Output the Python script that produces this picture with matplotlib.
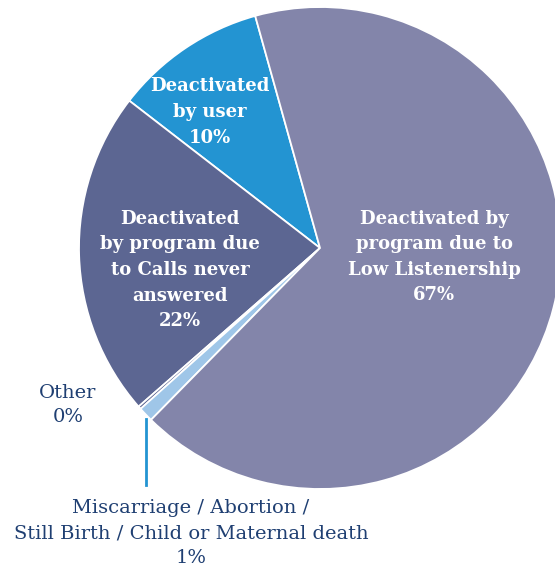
import numpy as np
import matplotlib.pyplot as plt

# slices, counter-clockwise from the top boundary
labels = ['Deactivated\nby user\n10%',
          'Deactivated\nby program due\nto Calls never\nanswered\n22%',
          'Other\n0%',
          'Miscarriage / Abortion /\nStill Birth / Child or Maternal death\n1%',
          'Deactivated by\nprogram due to\nLow Listenership\n67%']
values = [10.2, 21.9, 0.2, 1.0, 66.7]
colors = ['#2394d2', '#5c6692', '#5c6692', '#9fc6e8', '#8385aa']

W, H = 555, 566
fig = plt.figure(figsize=(W / 100, H / 100), dpi=100)
ax = fig.add_axes([0, 0, 1, 1])

wedges, _ = ax.pie(values, colors=colors, startangle=105.6, counterclock=True,
                   radius=1.0, wedgeprops=dict(edgecolor='white', linewidth=1.3))

# map pixels: centre at (320,248), radius 241 px
cx, cy, r = 320, 248, 241
ax.set_xlim(-cx / r, (W - cx) / r)
ax.set_ylim((cy - H) / r, cy / r)
ax.set_aspect('auto')
ax.axis('off')

def P(px, py):
    return (px - cx) / r, (cy - py) / r

font = 'DejaVu Serif'
navy = '#1f3f72'
bold = dict(ha='center', va='center', color='white', fontsize=13,
            fontweight='bold', family=font, linespacing=1.54)
reg = dict(ha='center', va='center', color=navy, fontsize=14,
           family=font, linespacing=1.5)

ax.text(*P(210, 112), labels[0], **bold)
ax.text(*P(180, 270), labels[1], **bold)
ax.text(*P(434, 257), labels[4], **bold)
ax.text(*P(68, 405), labels[2], **reg)
ax.text(*P(191, 533), labels[3], **reg)

# leader line for the 1% slice
w = wedges[3]
mid = np.deg2rad((w.theta1 + w.theta2) / 2)
x0, y0 = np.cos(mid), np.sin(mid)
ax.plot([x0, x0], [y0 - 0.02, (cy - 485) / r], color='#2394d2', lw=2)

fig.savefig('out.png', dpi=100)
